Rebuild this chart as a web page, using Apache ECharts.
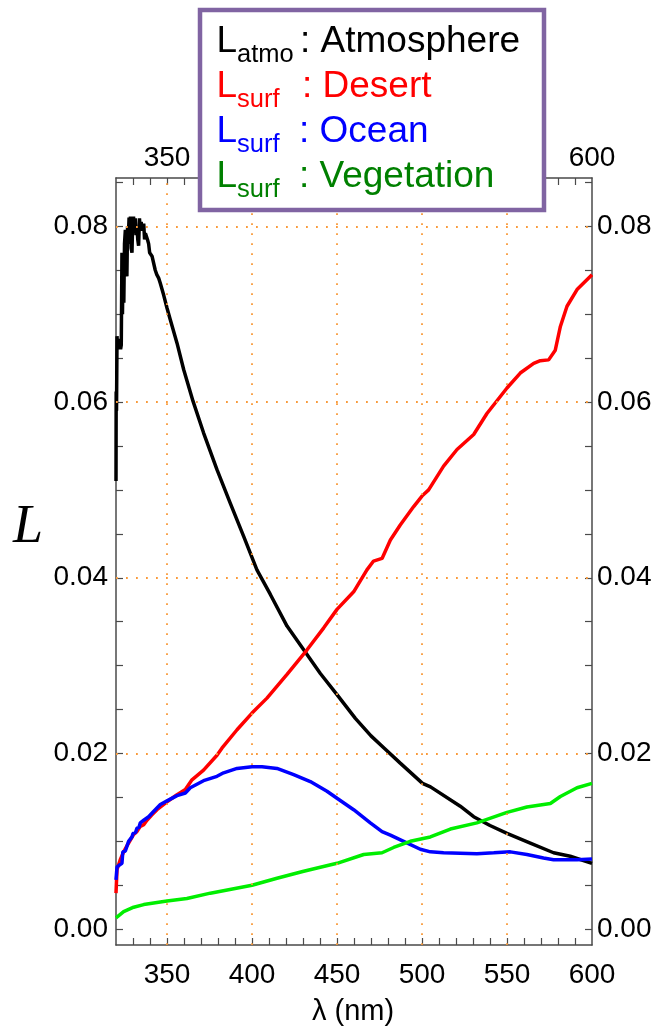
<!DOCTYPE html>
<html><head><meta charset="utf-8">
<script src="https://cdn.jsdelivr.net/npm/echarts@6/dist/echarts.min.js"></script>
<style>html,body{margin:0;padding:0;background:#fff}#c{width:659px;height:1029px}</style>
</head><body><div id="c"></div>
<script>
// ---- data (wavelength nm, radiance L) ----
const lamAtmo=[320.0,320.1,320.3,320.6,320.9,321.3,321.7,322.2,322.7,323.1,323.5,323.8,324.2,324.6,325.0,325.5,325.9,326.4,326.8,327.3,327.7,328.1,328.5,328.9,329.4,329.8,330.3,330.8,331.3,331.8,332.3,332.8,333.3,333.8,334.3,334.8,335.3,335.8,336.3,336.8,337.3,337.8,338.5,339.2,339.8,340.5,341.2,342.2,343.1,344.0,345.1,346.1,348.0,350.0,351.9,355.9,359.8,365.3,371.5,379.4,387.2,395.1,402.9,410.8,420.6,430.4,440.2,450.0,460.8,470.0,477.8,487.2,500.3,505.0,522.5,530.4,540.0,550.0,563.7,577.4,587.2,600.0];
const atmo=[0.0510,0.0612,0.0590,0.0675,0.0660,0.0672,0.0660,0.0668,0.0660,0.0665,0.0770,0.0700,0.0760,0.0713,0.0780,0.0796,0.0760,0.0743,0.0800,0.0790,0.0810,0.0780,0.0811,0.0775,0.0770,0.0805,0.0811,0.0795,0.0809,0.0790,0.0800,0.0785,0.0778,0.0809,0.0795,0.0805,0.0795,0.0800,0.0803,0.0785,0.0792,0.0790,0.0785,0.0780,0.0770,0.0768,0.0766,0.0765,0.0750,0.0745,0.0741,0.0735,0.0722,0.0707,0.0694,0.0667,0.0637,0.0601,0.0565,0.0523,0.0485,0.0447,0.0409,0.0381,0.0345,0.0318,0.0291,0.0267,0.0240,0.0220,0.0206,0.0189,0.0166,0.0162,0.0140,0.0128,0.0118,0.0109,0.0098,0.0087,0.0083,0.0075];

const lamDesert=[320.0,320.6,321.5,322.5,323.5,324.5,325.5,326.5,327.4,328.5,330.4,332.3,334.3,336.3,338.2,341.0,344.1,350.0,355.9,360.8,364.7,371.5,379.4,382.3,391.2,400.0,408.8,420.6,432.4,442.2,450.0,459.8,467.6,471.5,476.5,481.4,487.2,495.1,500.0,503.9,512.7,520.6,530.4,538.2,550.0,557.8,565.7,569.6,574.5,578.4,581.4,585.3,591.2,600.0];
const desert=[0.0041,0.0068,0.0066,0.0079,0.0078,0.0088,0.0087,0.0095,0.0098,0.0097,0.0108,0.0111,0.0117,0.0119,0.0124,0.0130,0.0136,0.0145,0.0153,0.0159,0.0170,0.0181,0.0198,0.0206,0.0227,0.0246,0.0263,0.0290,0.0318,0.0343,0.0364,0.0384,0.0409,0.0419,0.0422,0.0443,0.0460,0.0481,0.0493,0.0500,0.0527,0.0546,0.0563,0.0587,0.0616,0.0633,0.0644,0.0647,0.0648,0.0659,0.0686,0.0709,0.0728,0.0745];

const lamOcean=[320.0,320.6,322.0,323.5,324.0,325.5,326.4,327.4,328.5,329.4,330.0,331.5,332.3,333.5,334.3,336.3,339.2,342.1,346.1,350.0,355.9,360.8,363.7,371.5,379.4,383.3,391.2,400.0,405.9,414.7,424.5,434.3,444.1,450.0,459.8,469.6,476.5,481.4,489.2,499.0,504.9,512.7,532.3,542.2,552.0,561.7,571.5,577.4,591.2,600.0];
const ocean=[0.0056,0.0071,0.0073,0.0075,0.0088,0.0089,0.0090,0.0100,0.0101,0.0105,0.0109,0.0110,0.0115,0.0116,0.0121,0.0124,0.0128,0.0134,0.0142,0.0146,0.0152,0.0155,0.0161,0.0169,0.0174,0.0178,0.0183,0.0185,0.0185,0.0183,0.0176,0.0168,0.0157,0.0149,0.0136,0.0121,0.0111,0.0107,0.0100,0.0091,0.0088,0.0087,0.0086,0.0087,0.0088,0.0085,0.0081,0.0079,0.0079,0.0080];

const lamVeg=[320.0,324.5,330.4,336.3,350.0,361.7,375.5,400.0,414.7,430.4,450.0,465.7,476.5,483.3,493.1,504.9,516.7,532.3,550.0,561.7,575.5,581.4,591.2,600.0];
const veg=[0.0013,0.0020,0.0025,0.0028,0.0032,0.0035,0.0041,0.0050,0.0058,0.0066,0.0075,0.0085,0.0087,0.0093,0.0100,0.0105,0.0114,0.0121,0.0133,0.0139,0.0143,0.0151,0.0161,0.0166];

// ---- ticks / labels ----
const xTickLabels=[350,400,450,500,550,600];
const xMinorTicks=[330,340,350,360,370,380,390,400,410,420,430,440,450,460,470,480,490,500,510,520,530,540,550,560,570,580,590];
const yTickLabels=[0,0.02,0.04,0.06,0.08];
const yMinorTicks=[0,0.005,0.01,0.015,0.02,0.025,0.03,0.035,0.04,0.045,0.05,0.055,0.06,0.065,0.07,0.075,0.08,0.085];
const xGridVals=[350,400,450,500,550];
const yGridVals=[0.02,0.04,0.06,0.08];

const zip=(a,b)=>a.map((v,i)=>[v,b[i]]);
const FONT='"Liberation Sans", Arial, sans-serif';
const lineCol='#4a4a4a';

function xAx(pos, margin){
  return {type:'value', position:pos, min:320, max:600,
    axisLine:{show:true,onZero:false,lineStyle:{color:lineCol,width:1.5}},
    axisTick:{show:true,inside:true,length:7,customValues:xMinorTicks,lineStyle:{color:lineCol,width:1.2}},
    axisLabel:{show:true,customValues:xTickLabels,margin:margin,fontSize:28,fontFamily:FONT,color:'#000',showMinLabel:true,showMaxLabel:true},
    splitLine:{show:false}};
}
function yAx(pos, margin){
  return {type:'value', position:pos, min:-0.0018, max:0.0855,
    axisLine:{show:true,onZero:false,lineStyle:{color:lineCol,width:1.5}},
    axisTick:{show:true,inside:true,length:7,customValues:yMinorTicks,lineStyle:{color:lineCol,width:1.2}},
    axisLabel:{show:true,customValues:yTickLabels,margin:margin,fontSize:28,fontFamily:FONT,color:'#000',formatter:v=>v.toFixed(2),showMinLabel:true,showMaxLabel:true},
    splitLine:{show:false}};
}
function ser(name,data,color){
  return {name, type:'line', data, xAxisIndex:0, yAxisIndex:0, showSymbol:false, symbol:'none',
    lineStyle:{color,width:3.5}, itemStyle:{color}, z:3, animation:false, clip:true};
}
function txt(text,x,y,size,color){
  return {type:'text', z:101, style:{text, x, y, fill:color, font:size+'px '+FONT, align:'left', verticalAlign:'middle'}};
}

const chart=echarts.init(document.getElementById('c'),null,{renderer:'canvas'});
chart.setOption({
  backgroundColor:'#fff',
  animation:false,
  grid:{left:116,right:67,top:178,bottom:84,containLabel:false},
  xAxis:[xAx('bottom',16), xAx('top',6)],
  yAxis:[yAx('left',8), yAx('right',5)],
  series:[
    {type:'line', data:[], xAxisIndex:0, yAxisIndex:0, silent:true, z:1,
     markLine:{silent:true, animation:false, symbol:['none','none'], label:{show:false},
       lineStyle:{color:'#f99a3a',width:1.8,type:[1.8,8.2]},
       emphasis:{disabled:true},
       data:[...xGridVals.map(v=>({xAxis:v})), ...yGridVals.map(v=>({yAxis:v}))]}},
    ser('Atmosphere',zip(lamAtmo,atmo),'#000000'),
    ser('Desert',zip(lamDesert,desert),'#ff0000'),
    ser('Ocean',zip(lamOcean,ocean),'#0000ff'),
    ser('Vegetation',zip(lamVeg,veg),'#00ee00')
  ],
  graphic:[
    {type:'rect', z:100, shape:{x:200,y:10,width:344,height:200}, style:{fill:'#fff',stroke:'#8064a2',lineWidth:4.5}},
    txt('L',216.5,42.2,37,'#000'), txt('atmo',237,55.2,25.5,'#000'), txt(': Atmosphere',300,42.2,37,'#000'),
    txt('L',216.5,87.2,37,'#ff0000'), txt('surf',237,100.2,25.5,'#ff0000'), txt(': Desert',302,87.2,37,'#ff0000'),
    txt('L',216.5,132.2,37,'#0000ff'), txt('surf',237,145.2,25.5,'#0000ff'), txt(': Ocean',299,132.2,37,'#0000ff'),
    txt('L',216.5,177.2,37,'#008000'), txt('surf',237,190.2,25.5,'#008000'), txt(': Vegetation',299,177.2,37,'#008000'),
    {type:'text', z:50, style:{text:'L', x:28, y:528, fill:'#000', font:'italic 54px "Liberation Serif", "Times New Roman", serif', align:'center', verticalAlign:'middle'}},
    {type:'text', z:50, style:{text:'λ (nm)', x:353, y:1012, fill:'#000', font:'29px '+FONT, align:'center', verticalAlign:'middle'}}
  ]
});
</script></body></html>
